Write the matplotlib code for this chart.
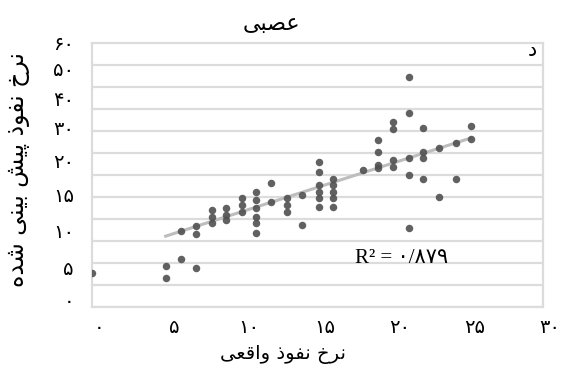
import numpy as np
import matplotlib
matplotlib.use('Agg')
import matplotlib.pyplot as plt
from matplotlib.transforms import ScaledTranslation

actual = [0.0, 4.9, 4.9, 5.9, 6.9, 5.9, 6.9, 6.9,
          8.0, 8.0, 8.0, 8.9, 8.9, 8.9, 10.0, 10.0, 10.0,
          10.9, 10.9, 10.9, 10.9, 10.9, 10.9, 11.9, 11.9,
          13.0, 13.0, 13.0, 14.0, 14.0,
          15.1, 15.1, 15.1, 15.1, 15.1, 15.1, 16.0, 16.0, 16.0, 16.0, 16.0,
          18.0, 19.0, 19.0, 19.0, 19.0, 20.0, 20.0, 20.0, 20.0,
          21.1, 21.1, 21.1, 21.1, 21.1, 22.0, 22.0, 22.0, 22.0,
          23.1, 23.1, 24.2, 24.2, 25.2, 25.2]
predicted = [7.7, 9.4, 6.7, 10.9, 8.8, 17.3, 18.5, 16.5,
             22.0, 20.5, 19.0, 22.4, 20.9, 19.8, 24.7, 23.2, 21.7,
             26.2, 24.3, 22.4, 20.5, 19.0, 16.9, 28.1, 23.9,
             24.7, 23.2, 21.7, 25.5, 18.6,
             33.0, 30.7, 27.7, 26.2, 24.7, 22.8, 29.2, 27.7, 26.2, 24.7, 22.8,
             31.1, 38.0, 35.3, 32.3, 31.5, 42.1, 40.5, 33.4, 31.9,
             52.2, 44.0, 33.8, 30.0, 18.0, 40.6, 35.3, 33.8, 29.2,
             36.1, 25.1, 37.2, 29.2, 41.2, 38.2]

# trend line ends
trend_x = [4.9, 25.2]
trend_y = [16.1, 38.4]

x_ticks = [0, 5, 10, 15, 20, 25, 30]
x_labels = ['۰', '۵', '۱۰', '۱۵', '۲۰', '۲۵', '۳۰']
# the y labels in the source sit off the grid
y_ticks = [60, 54.3, 47.5, 40.7, 33.4, 25.5, 17.5, 8.9, 1.6]
y_labels = ['۶۰', '۵۰', '۴۰', '۳۰', '۲۰', '۱۵', '۱۰', '۵', '۰']

title = 'عصبی'
xlabel = 'نرخ نفوذ واقعی'
ylabel = 'نرخ نفوذ پیش بینی شده'
panel = 'د'
r2_text = 'R² = ۰/۸۷۹'

# Presentation forms: isolated, final, initial, medial
FORMS = {
    'ا': ('\uFE8D', '\uFE8E', None, None),
    'ب': ('\uFE8F', '\uFE90', '\uFE91', '\uFE92'),
    'پ': ('\uFB56', '\uFB57', '\uFB58', '\uFB59'),
    'خ': ('\uFEA5', '\uFEA6', '\uFEA7', '\uFEA8'),
    'د': ('\uFEA9', '\uFEAA', None, None),
    'ذ': ('\uFEAB', '\uFEAC', None, None),
    'ر': ('\uFEAD', '\uFEAE', None, None),
    'ش': ('\uFEB5', '\uFEB6', '\uFEB7', '\uFEB8'),
    'ص': ('\uFEB9', '\uFEBA', '\uFEBB', '\uFEBC'),
    'ع': ('\uFEC9', '\uFECA', '\uFECB', '\uFECC'),
    'ف': ('\uFED1', '\uFED2', '\uFED3', '\uFED4'),
    'ق': ('\uFED5', '\uFED6', '\uFED7', '\uFED8'),
    'ن': ('\uFEE5', '\uFEE6', '\uFEE7', '\uFEE8'),
    'ه': ('\uFEE9', '\uFEEA', '\uFEEB', '\uFEEC'),
    'و': ('\uFEED', '\uFEEE', None, None),
    'ی': ('\uFBFC', '\uFBFD', '\uFBFE', '\uFBFF'),
}


def shape(text):
    out = []
    for i, ch in enumerate(text):
        if ch not in FORMS:
            out.append(ch)
            continue
        prev = text[i-1] if i > 0 else ''
        nxt = text[i+1] if i+1 < len(text) else ''
        jp = prev in FORMS and FORMS[prev][2] is not None
        jn = FORMS[ch][2] is not None and nxt in FORMS
        f = FORMS[ch]
        out.append(f[3] if (jp and jn) else f[1] if jp else f[2] if jn else f[0])
    return ''.join(reversed(out))


plt.rcParams['font.family'] = ['DejaVu Sans']
grid_c = '#dcdcdc'

fig = plt.figure(figsize=(5.64, 3.79), dpi=100)
ax = fig.add_axes((92/564, 1-307/379, 451/564, 264/379))
ax.set_xlim(0, 30)
ax.set_ylim(0, 60)

# grid on minor ticks, labels on major ticks
ax.set_xticks(np.arange(0, 31, 5), minor=True)
ax.set_yticks(np.arange(0, 61, 5), minor=True)
ax.grid(which='minor', color=grid_c, lw=1.6)
ax.grid(which='major', visible=False)
ax.set_axisbelow(True)
for s in ax.spines.values():
    s.set_color(grid_c)
    s.set_linewidth(1.6)

ax.set_xticks(x_ticks)
ax.set_xticklabels(x_labels, fontsize=14)
ax.set_yticks(y_ticks)
ax.set_yticklabels(y_labels, fontsize=14)
ax.tick_params(which='both', length=0)
ax.tick_params(axis='x', pad=8)
ax.tick_params(axis='y', pad=13)
shift = ScaledTranslation(7/100, 0, fig.dpi_scale_trans)
for lab in ax.get_xticklabels():
    lab.set_transform(lab.get_transform() + shift)

x = np.array(actual)
y = np.array(predicted)
ax.plot(trend_x, trend_y, color='#bdbdbd', lw=2.2, zorder=2)
ax.plot(x, y, 'o', ms=5.4, color='#505050', alpha=0.9, mec='none', zorder=3)

ax.text(17.5, 11.1, r2_text, fontsize=15, va='center', ha='left',
        family=['Liberation Serif', 'DejaVu Sans'])
ax.text(29.6, 58.4, shape(panel), fontsize=15, ha='right', va='center')

fig.text(271/564, 1-24/379, shape(title), fontsize=16, ha='center', va='center')
fig.text(283/564, 1-355/379, shape(xlabel), fontsize=14, ha='center', va='center')
fig.text(18/564, 1-170/379, shape(ylabel), fontsize=17, ha='center', va='center',
         rotation=90)

fig.savefig('out.png', dpi=100)
